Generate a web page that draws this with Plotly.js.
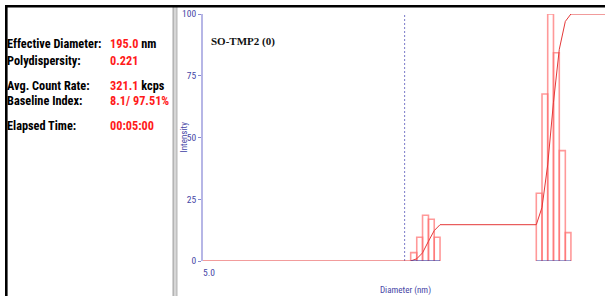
<!DOCTYPE html>
<html>
<head>
<meta charset="utf-8">
<script src="https://cdn.plot.ly/plotly-3.0.1.min.js"></script>
<style>
html,body{margin:0;padding:0;background:#fff;overflow:hidden;width:605px;height:296px;}
#chart{width:608px;height:296px;}
</style>
</head>
<body>
<div id="chart"></div>
<script>
// ---- data ----
const binLo = [57.0, 61.2, 65.5, 70.2, 75.1, 248.4, 265.6, 283.9, 303.8, 325.2, 349.0];
const binHi = [61.2, 65.5, 70.2, 75.1, 80.4, 265.6, 283.9, 303.8, 325.2, 349.0, 372.7];
const intensity = [3.4, 9.6, 18.5, 16.9, 9.6, 27.4, 67.6, 100, 84.3, 44.7, 11.5];
const cumX = [5, 57.0, 61.2, 65.5, 70.2, 75.1, 80.4, 248.4, 265.6, 283.9, 303.8, 325.2, 349.0, 372.7, 600];
const cumY = [0, 0, 0.9, 3.3, 8.0, 12.3, 14.7, 14.7, 21.7, 38.9, 64.3, 85.7, 97.0, 100, 100];
const markerDiameter = 53.1;
const xTickVals = [5, 500];
const xTickText = ["5.0", "500.0"];
const yTickVals = [0, 25, 50, 75, 100];
const sampleName = "SO-TMP2 (0)";
const statLabels = ["Effective Diameter:", "Polydispersity:", "Avg. Count Rate:", "Baseline Index:", "Elapsed Time:"];
const statValues = ["195.0", "0.221", "321.1", "8.1/ 97.51%", "00:05:00"];
const statUnits = [" nm", "", " kcps", "", ""];

// ---- geometry helpers (pixel -> paper) ----
const W = 608, H = 296, L = 203, R = 0, T = 14, B = 35;
const PW = W - L - R, PH = H - T - B;
const px = v => (v - L) / PW;
const py = v => (H - B - v) / PH;

// histogram outline path
const barX = [], barY = [];
for (let i = 0; i < binLo.length; i++) {
  barX.push(binLo[i], binLo[i], binHi[i], binHi[i], null);
  barY.push(0, intensity[i], intensity[i], 0, null);
}
// blue base segments under bar groups
const baseX = [binLo[0], binHi[4], null, binLo[5], binHi[10]];
const baseY = [0, 0, null, 0, 0];

const blue = '#4646a6';
const narrow = '"Roboto Condensed", "Liberation Sans Narrow", sans-serif';

const traces = [
  {x: [markerDiameter, markerDiameter], y: [0, 100], mode: 'lines', cliponaxis: false,
   line: {color: '#7a7ac8', width: 1, dash: '2px,2px'}, hoverinfo: 'skip'},
  {x: barX, y: barY, mode: 'lines', cliponaxis: false,
   line: {color: 'rgba(255,110,110,0.7)', width: 1.6}, hoverinfo: 'skip'},
  {x: cumX, y: cumY, mode: 'lines', cliponaxis: false,
   line: {color: '#e43838', width: 1}, hoverinfo: 'skip'},
  {x: baseX, y: baseY, mode: 'lines', cliponaxis: false,
   line: {color: '#3a3aa0', width: 1.2}, hoverinfo: 'skip'}
];

const ann = [];
const rowY = [44, 61.5, 85.5, 101.5, 126];
for (let i = 0; i < statLabels.length; i++) {
  ann.push({xref: 'paper', yref: 'paper', x: px(4.8), y: py(rowY[i]), xanchor: 'left', yanchor: 'middle',
    text: '<b>' + statLabels[i] + '</b>', showarrow: false,
    font: {family: narrow, size: 12.3, color: '#000'}});
  ann.push({xref: 'paper', yref: 'paper', x: px(107.8), y: py(rowY[i]), xanchor: 'left', yanchor: 'middle',
    text: '<b><span style="color:#ff1a1a">' + statValues[i] + '</span>' + statUnits[i] + '</b>', showarrow: false,
    font: {family: narrow, size: 12.3, color: '#000'}});
}
ann.push({xref: 'paper', yref: 'paper', x: px(208.8), y: py(41), xanchor: 'left', yanchor: 'middle',
  text: '<b>' + sampleName + '</b>', showarrow: false,
  font: {family: '"Liberation Serif", "Times New Roman", serif', size: 11, color: '#111'}});
// y-axis title
ann.push({xref: 'paper', yref: 'paper', x: px(183.5), y: py(137), xanchor: 'center', yanchor: 'middle',
  text: 'Intensity', textangle: -90, showarrow: false,
  font: {family: narrow, size: 9, color: blue}});

const shapes = [
  {type: 'rect', xref: 'paper', yref: 'paper', x0: px(172.5), x1: px(177.5), y0: py(296), y1: py(6),
   fillcolor: '#d6d6d6', line: {width: 0}},
  {type: 'line', xref: 'paper', yref: 'paper', x0: px(173.2), x1: px(173.2), y0: py(296), y1: py(6),
   line: {color: '#a6a6a6', width: 1}},
  {type: 'line', xref: 'paper', yref: 'paper', x0: px(176.8), x1: px(176.8), y0: py(296), y1: py(6),
   line: {color: '#b8b8b8', width: 1}},
  {type: 'rect', xref: 'paper', yref: 'paper', x0: px(5), x1: px(610), y0: py(7.6), y1: py(5),
   fillcolor: '#000', line: {width: 0}},
  {type: 'rect', xref: 'paper', yref: 'paper', x0: px(5), x1: px(7.6), y0: py(297), y1: py(5),
   fillcolor: '#000', line: {width: 0}}
];

const layout = {
  width: W, height: H,
  margin: {l: L, r: R, t: T, b: B, pad: 0},
  paper_bgcolor: '#fff', plot_bgcolor: '#fff',
  showlegend: false,
  xaxis: {
    type: 'log', range: [Math.log10(5), Math.log10(5) + PW / 196.5],
    showgrid: false, zeroline: false, showline: false,
    tickvals: xTickVals, ticktext: xTickText, ticks: '', ticklabelshift: 6, ticklabelstandoff: 4,
    tickfont: {family: narrow, size: 9.5, color: blue},
    title: {text: 'Diameter (nm)', font: {family: narrow, size: 9, color: blue}, standoff: 10}
  },
  yaxis: {
    range: [0, 100], showgrid: false, zeroline: false,
    showline: true, linecolor: '#b6b6e6', linewidth: 2,
    tickvals: yTickVals, ticks: 'outside', ticklen: 3, tickcolor: '#8a8ad0', tickwidth: 1,
    tickfont: {family: narrow, size: 9.5, color: blue}
  },
  annotations: ann,
  shapes: shapes
};

Plotly.newPlot('chart', traces, layout, {staticPlot: true, displayModeBar: false});
</script>
</body>
</html>
